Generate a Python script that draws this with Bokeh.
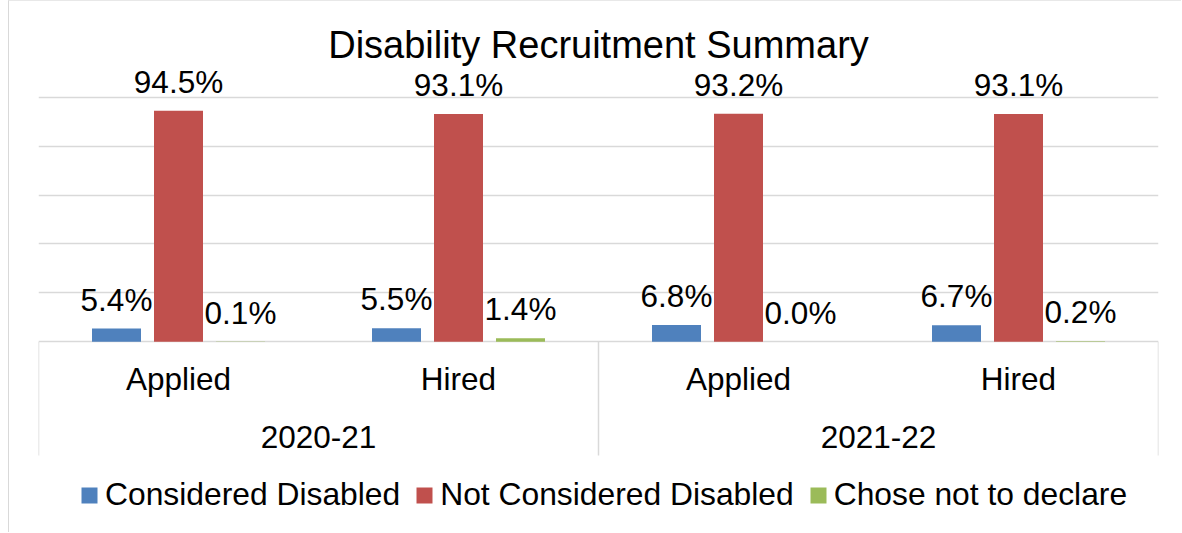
from bokeh.plotting import figure
from bokeh.models import FactorRange, Range1d, ColumnDataSource, Legend, LegendItem, Grid, FixedTicker
from bokeh.transform import dodge
from bokeh.core.properties import value
from bokeh.embed import file_html
from bokeh.resources import INLINE

# ---- data ----
years = ["2020-21", "2021-22"]
stages = ["Applied", "Hired"]
series_names = ["Considered Disabled", "Not Considered Disabled", "Chose not to declare"]
considered = [5.4, 5.5, 6.8, 6.7]
not_considered = [94.5, 93.1, 93.2, 93.1]
not_declared = [0.1, 1.4, 0.0, 0.2]
grid_ticks = [0, 20, 40, 60, 80, 100]

colors = ["#4F81BD", "#C0504D", "#9BBB59"]
FONT = "Liberation Sans"
FS = 31.5          # label font size (px)
LEGEND_FS = 31.8
TITLE_FS = 38
SHIFT_K = 0.33     # baseline correction (fraction of font size)

factors = [(y, s) for y in years for s in stages]

# ---- geometry helpers (page pixel -> data) ----
PAGE_LEFT, PAGE_TOP = 9, 1         # where the canvas starts on the page (after borders)
W, H = 1182 - PAGE_LEFT, 533 - PAGE_TOP
FRAME_LEFT, FRAME_RIGHT = 38, 1158  # page x of plot frame
BASE = 341.2      # page y of 0%
PXU = 2.445       # px per 1%


def py(page_y):
    return (BASE - page_y) / PXU


def baseline_y(page_y, fs):
    return py(page_y - SHIFT_K * fs)


x_range = FactorRange(*factors, group_padding=0, factor_padding=0, range_padding=0)
y_range = Range1d(py(PAGE_TOP + H), py(PAGE_TOP))

p = figure(width=W, height=H, x_range=x_range, y_range=y_range,
           output_backend="svg", toolbar_location=None,
           x_axis_location=None, y_axis_location=None,
           min_border_left=FRAME_LEFT - PAGE_LEFT, min_border_right=1182 - FRAME_RIGHT,
           min_border_top=0, min_border_bottom=0)
p.outline_line_color = None
p.xgrid.visible = False
p.ygrid.visible = False
p.styles = {"margin-left": "8px", "border-left": "1px solid #d9d9d9",
            "border-top": "1px solid #e8e8e8"}

grid = Grid(dimension=1, ticker=FixedTicker(ticks=grid_ticks),
            grid_line_color="#d9d9d9", grid_line_width=1.3)
p.add_layout(grid, "center")

src = ColumnDataSource(dict(x=factors, c=considered, n=not_considered, d=not_declared,
                            cl=[f"{v:.1f}%" for v in considered],
                            nl=[f"{v:.1f}%" for v in not_considered],
                            dl=[f"{v:.1f}%" for v in not_declared]))

STEP = 62 / 280
BW = 49 / 280
GAP = (18.5 + SHIFT_K * FS) / PXU
renderers = []
for i, (col, lab) in enumerate([("c", "cl"), ("n", "nl"), ("d", "dl")]):
    off = (i - 1) * STEP
    r = p.vbar(x=dodge("x", off, range=x_range), top=col, width=BW, bottom=0,
               source=src, fill_color=colors[i], line_color=None)
    renderers.append(r)
    vals = src.data[col]
    lsrc = ColumnDataSource(dict(x=factors, y=[v + GAP for v in vals], t=src.data[lab]))
    p.text(x=dodge("x", off, range=x_range), y="y", text="t", source=lsrc,
           text_align="center", text_baseline="alphabetic",
           text_font=value(FONT), text_font_size=value(f"{FS}px"), text_color="#000000")

# category separators (group boundaries)
half = len(stages) / 2
sep_x = [(years[0], -half)] + [(y, half) for y in years]
p.segment(x0=sep_x, y0=[0] * len(sep_x), x1=sep_x, y1=[py(455)] * len(sep_x),
          line_color="#d9d9d9", line_width=1.5)

# category labels
p.text(x=factors, y=[baseline_y(389, FS)] * len(factors), text=[s for _, s in factors],
       text_align="center", text_baseline="alphabetic",
       text_font=value(FONT), text_font_size=value(f"{FS}px"), text_color="#000000")
p.text(x=years, y=[baseline_y(447, FS)] * len(years), text=years,
       text_align="center", text_baseline="alphabetic",
       text_font=value(FONT), text_font_size=value(f"{FS}px"), text_color="#000000")

# title
p.text(x=[len(factors) / 2], y=[baseline_y(57, TITLE_FS)], text=["Disability Recruitment Summary"],
       text_align="center", text_baseline="alphabetic",
       text_font=value(FONT), text_font_size=value(f"{TITLE_FS}px"), text_color="#000000")

legend = Legend(items=[LegendItem(label=n, renderers=[r]) for n, r in zip(series_names, renderers)],
                orientation="horizontal", location=(41, 20),
                glyph_width=20, glyph_height=20, label_standoff=6, spacing=14,
                padding=0, margin=0, border_line_color=None, background_fill_alpha=0,
                label_text_font=FONT, label_text_font_size=f"{LEGEND_FS}px", label_text_color="#000000")
p.add_layout(legend, "center")

open("out.html", "w").write(file_html(p, INLINE))
